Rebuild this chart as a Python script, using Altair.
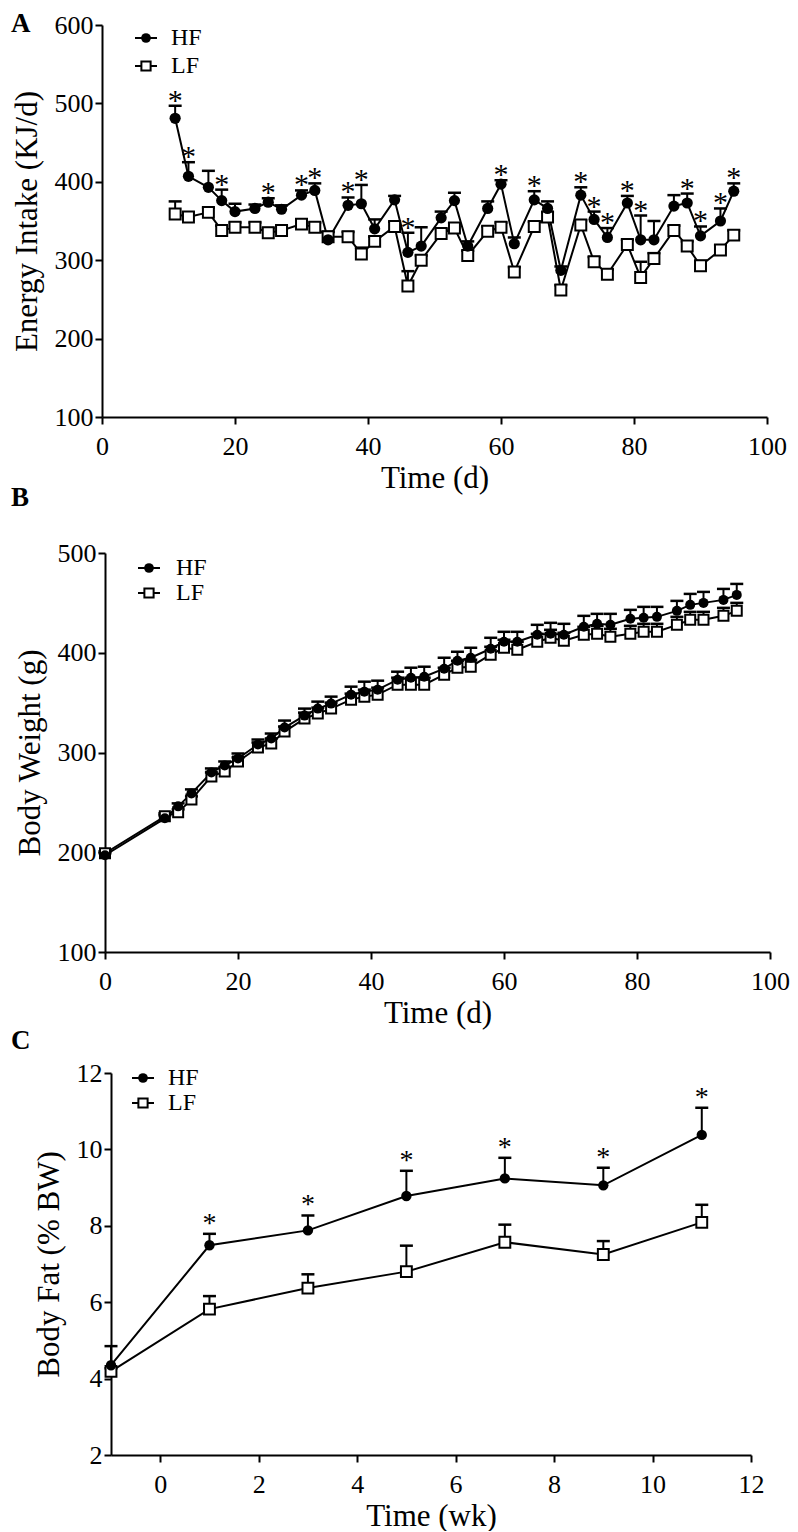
import altair as alt
import pandas as pd

FONT = "Liberation Serif"

# ---------------- Panel A : Energy intake ----------------
days_A = [11, 13, 16, 18, 20, 23, 25, 27, 30, 32, 34, 37, 39, 41, 44, 46, 48, 51, 53,
          55, 58, 60, 62, 65, 67, 69, 72, 74, 76, 79, 81, 83, 86, 88, 90, 93, 95]
hf_A = [481, 407, 393, 376, 362, 366, 374, 365, 383, 389, 326, 370, 372, 340, 377, 310,
        318, 354, 376, 318, 366, 397, 321, 377, 366, 287, 383, 352, 329, 373, 326, 326,
        369, 373, 331, 350, 388]
hf_A_sem = [16, 18, 21, 14, 10, 5, 5, 5, 6, 9, 10, 10, 24, 12, 5, 25, 24, 8, 10, 6, 9, 5,
            8, 11, 9, 5, 10, 10, 12, 9, 31, 24, 14, 12, 12, 16, 10]
lf_A = [359, 355, 361, 338, 342, 342, 335, 338, 346, 342, 330, 330, 308, 324, 343, 267,
        300, 334, 341, 306, 337, 342, 285, 343, 355, 262, 345, 298, 282, 320, 278, 302,
        338, 318, 293, 313, 332]
lf_A_sem = [16, 6, 6, 6, 6, 6, 6, 6, 6, 6, 6, 6, 8, 6, 6, 19, 6, 6, 6, 6, 6, 6, 6, 6, 6,
            6, 6, 6, 6, 6, 20, 7, 6, 6, 6, 6, 6]
stars_A = [11, 13, 18, 25, 30, 32, 37, 39, 46, 60, 65, 72, 74, 76, 79, 81, 88, 90, 93, 95]

# ---------------- Panel B : Body weight ----------------
days_B = [0, 9, 11, 13, 16, 18, 20, 23, 25, 27, 30, 32, 34, 37, 39, 41, 44, 46, 48, 51,
          53, 55, 58, 60, 62, 65, 67, 69, 72, 74, 76, 79, 81, 83, 86, 88, 90, 93, 95]
hf_B = [197, 234, 246, 259, 280, 287, 294, 308, 314, 325, 337, 344, 349, 358, 361, 363,
        373, 375, 376, 384, 392, 395, 404, 411, 411, 418, 419, 418, 426, 429, 428, 434,
        435, 436, 442, 448, 450, 453, 458]
hf_B_sem = [2, 3, 3, 4, 4, 4, 5, 5, 5, 7, 7, 7, 7, 8, 10, 9, 8, 10, 10, 11, 9, 10, 11, 10,
            10, 10, 11, 11, 11, 10, 11, 9, 11, 10, 10, 11, 11, 11, 11]
lf_B = [199, 236, 240, 253, 276, 281, 291, 305, 309, 321, 334, 339, 344, 353, 356, 358,
        368, 368, 368, 378, 385, 386, 398, 405, 403, 411, 415, 412, 418, 419, 416, 419,
        421, 421, 428, 433, 433, 437, 442]
lf_B_sem = [2, 3, 3, 3, 4, 4, 4, 5, 5, 5, 6, 6, 6, 6, 7, 7, 7, 7, 7, 7, 7, 7, 8, 8, 8, 8,
            8, 8, 8, 8, 8, 8, 8, 8, 8, 8, 8, 8, 8]
stars_B = []

# ---------------- Panel C : Body fat ----------------
weeks_C = [-1, 1, 3, 5, 7, 9, 11]
hf_C = [4.35, 7.49, 7.88, 8.78, 9.24, 9.06, 10.38]
hf_C_sem = [0.50, 0.30, 0.39, 0.66, 0.54, 0.46, 0.71]
lf_C = [4.19, 5.82, 6.37, 6.80, 7.57, 7.25, 8.09]
lf_C_sem = [0.08, 0.34, 0.36, 0.68, 0.46, 0.35, 0.46]
stars_C = [1, 3, 5, 7, 9, 11]

series = ["HF", "LF"]

AX = dict(labelFont=FONT, labelFontSize=26, labelColor="black", titleFont=FONT,
          titleFontSize=31, titleFontWeight="normal", titleColor="black",
          domainColor="black", domainWidth=2, tickColor="black", tickWidth=2, tickSize=7,
          grid=False, labelFlush=False, labelOverlap=False)


def panel(t, hf, hf_sem, lf, lf_sem, stars, xdom, xticks, ydom, yticks, xtitle, ytitle,
          width, height, xrange, yrange, yoffset, letter, letter_xy, leg, sizes,
          star_size, star_dy):
    df = pd.DataFrame({
        "t": t,
        "hf": hf,
        "hf_hi": [m + s for m, s in zip(hf, hf_sem)],
        "lf": lf,
        "lf_hi": [m + s for m, s in zip(lf, lf_sem)],
    })
    star_df = df[df["t"].isin(stars)]
    xsc = alt.Scale(domain=xdom, range=xrange, nice=False, zero=False)
    ysc = alt.Scale(domain=ydom, range=yrange, nice=False, zero=False)
    xax = alt.Axis(values=xticks, title=xtitle, format="d", labelPadding=9,
                   titlePadding=4, **AX)
    yax = alt.Axis(values=yticks, title=ytitle, format="d", offset=yoffset,
                   labelPadding=2, titlePadding=11, **AX)

    def X():
        return alt.X("t:Q", scale=xsc, axis=xax)

    def Y(f):
        return alt.Y(f"{f}:Q", scale=ysc, axis=yax)

    base = alt.Chart(df)
    circ_size, sq_size = sizes
    layers = []
    for key in ["lf", "hf"]:
        layers.append(base.mark_line(color="black", strokeWidth=2).encode(x=X(), y=Y(key)))
    for key in ["lf", "hf"]:
        layers.append(base.mark_rule(color="black", strokeWidth=2).encode(
            x=X(), y=Y(key), y2=f"{key}_hi:Q"))
        layers.append(base.mark_rule(color="black", strokeWidth=2.5, xOffset=-6.5,
                                     x2Offset=6.5).encode(x=X(), x2="t:Q", y=Y(f"{key}_hi")))
    layers.append(base.mark_point(shape="square", filled=True, fill="white", stroke="black",
                                  strokeWidth=2, opacity=1, size=sq_size).encode(x=X(), y=Y("lf")))
    layers.append(base.mark_point(shape="circle", filled=True, color="black", opacity=1,
                                  size=circ_size).encode(x=X(), y=Y("hf")))
    if len(star_df):
        layers.append(alt.Chart(star_df).mark_text(
            text="*", font=FONT, fontSize=star_size, baseline="alphabetic", dy=star_dy,
            color="black", fill="black").encode(x=X(), y=Y("hf_hi")))

    # legend (decoration, drawn in pixel space of the panel)
    lx, ly0, ly1, tx = leg
    for name, ly in zip(series, [ly0, ly1]):
        ldf = pd.DataFrame({"g": [name]})
        layers.append(alt.Chart(ldf).mark_rule(color="black", strokeWidth=2).encode(
            x=alt.value(lx - 11), x2=alt.value(lx + 11), y=alt.value(ly)))
        if name == "HF":
            layers.append(alt.Chart(ldf).mark_point(shape="circle", filled=True, color="black",
                                                    opacity=1, size=95).encode(
                x=alt.value(lx), y=alt.value(ly)))
        else:
            layers.append(alt.Chart(ldf).mark_point(shape="square", filled=True, fill="white",
                                                    stroke="black", strokeWidth=2, opacity=1,
                                                    size=85).encode(
                x=alt.value(lx), y=alt.value(ly)))
        layers.append(alt.Chart(ldf).mark_text(align="left", baseline="middle", font=FONT,
                                               fontSize=24, color="black").encode(
            x=alt.value(tx), y=alt.value(ly), text="g:N"))

    # panel letter
    layers.append(alt.Chart(pd.DataFrame({"p": [letter]})).mark_text(
        align="left", baseline="top", font=FONT, fontSize=27, fontWeight="bold",
        color="black").encode(x=alt.value(letter_xy[0]), y=alt.value(letter_xy[1]), text="p:N"))

    return alt.layer(*layers).properties(width=width, height=height)


pA = panel(days_A, hf_A, hf_A_sem, lf_A, lf_A_sem, stars_A,
           [0, 100], [0, 20, 40, 60, 80, 100], [100, 600], [100, 200, 300, 400, 500, 600],
           "Time (d)", "Energy Intake (KJ/d)", 665, 392, [0, 665], [392, 0], 0,
           "A", (-91, -14), (44, 13, 41, 69), (125, 120), 30, 4)

pB = panel(days_B, hf_B, hf_B_sem, lf_B, lf_B_sem, stars_B,
           [0, 100], [0, 20, 40, 60, 80, 100], [100, 500], [100, 200, 300, 400, 500],
           "Time (d)", "Body Weight (g)", 668, 414, [3, 668], [414, 15], -3,
           "B", (-91, -53), (47, 30, 55, 74), (100, 100), 30, 4)

pC = panel(weeks_C, hf_C, hf_C_sem, lf_C, lf_C_sem, stars_C,
           [-1, 12], [0, 2, 4, 6, 8, 10, 12], [2, 12], [2, 4, 6, 8, 10, 12],
           "Time (wk)", "Body Fat (% BW)", 649, 382, [9, 649], [382, 0], -9,
           "C", (-91, -45), (41, 5, 30, 66), (107, 118), 28, -2)

chart = alt.vconcat(pA, pB, pC, spacing=121, bounds="flush").properties(
    padding={"left": 3, "top": 2, "right": 0, "bottom": 0}
).configure_view(stroke=None).configure_axis(
    labelFont=FONT, titleFont=FONT
).configure_text(font=FONT)

chart.save("out.html", embed_options={"renderer": "svg", "actions": False})
